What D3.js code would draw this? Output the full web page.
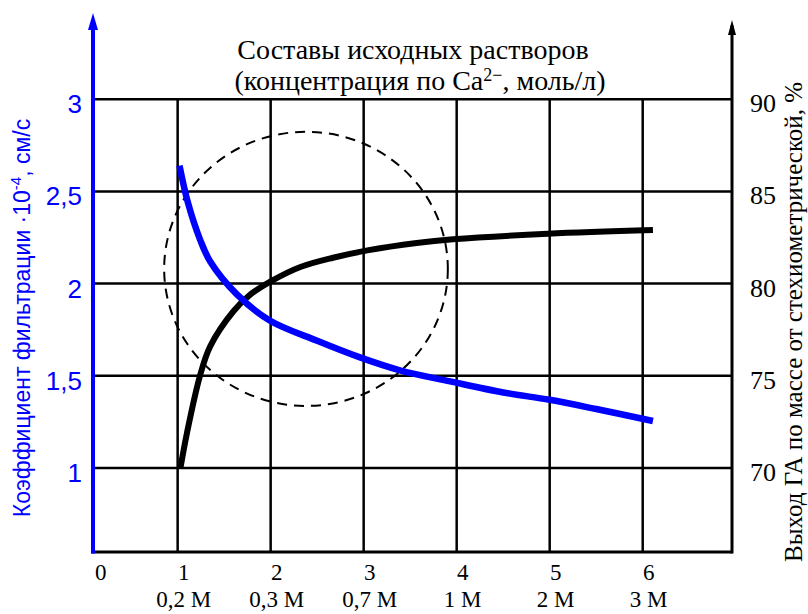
<!DOCTYPE html>
<html>
<head>
<meta charset="utf-8">
<script src="https://cdn.jsdelivr.net/npm/d3@7"></script>
<style>
  body { margin: 0; background: #fff; }
  .serif { font-family: "Liberation Serif", "Times New Roman", serif; fill: #000; }
  .sans { font-family: "Liberation Sans", Arial, sans-serif; fill: #0000ff; }
</style>
</head>
<body>
<div id="main"></div>
<script>
// данные
const xTicks = [0, 1, 2, 3, 4, 5, 6];
const concLabels = ["0,2 М", "0,3 М", "0,7 М", "1 М", "2 М", "3 М"];
const leftTicks = [1, 1.5, 2, 2.5, 3];
const leftTickLabels = ["1", "1,5", "2", "2,5", "3"];
const rightTicks = [70, 75, 80, 85, 90];

// коэффициент фильтрации (синяя кривая)
const filtX = [1.02, 1.11, 1.24, 1.35, 1.64, 1.99, 2.5, 2.96, 3.39, 3.93, 4.5, 5.0, 5.5, 6.11];
const filtY = [2.64, 2.44, 2.24, 2.12, 1.94, 1.80, 1.69, 1.60, 1.53, 1.47, 1.41, 1.37, 1.32, 1.255];

// выход ГА (чёрная кривая)
const yieldX = [1.03, 1.10, 1.24, 1.35, 1.60, 1.78, 2.03, 2.32, 2.67, 3.04, 3.57, 3.96, 4.98, 6.11];
const yieldY = [70.0, 71.9, 75.0, 76.6, 78.5, 79.4, 80.2, 80.9, 81.4, 81.8, 82.2, 82.4, 82.7, 82.9];

// пунктирный эллипс: центр (x, y) и полуоси в единицах осей
const ellipseC = [2.38, 2.08];
const ellipseR = [1.525, 0.743];

const W = 808, H = 614;

const svg = d3.select("#main")
    .append("svg")
    .attr("width", W)
    .attr("height", H);

/*
    шкалы
*/
const x = d3.scaleLinear().domain([0.09, 6.96]).range([93, 732]);
const y = d3.scaleLinear().domain([0.545, 3.467]).range([552, 13]);
const yR = d3.scaleLinear().domain([65.45, 94.67]).range([552, 13]);

/*
    сетка
*/
svg.append("g")
    .selectAll("line")
    .data(leftTicks)
    .enter()
    .append("line")
    .attr("x1", x.range()[0]).attr("x2", x.range()[1])
    .attr("y1", d => y(d)).attr("y2", d => y(d))
    .attr("stroke", "#000").attr("stroke-width", 2.5);

svg.append("g")
    .selectAll("line")
    .data(xTicks.slice(1))
    .enter()
    .append("line")
    .attr("x1", d => x(d)).attr("x2", d => x(d))
    .attr("y1", y(3)).attr("y2", y.range()[0])
    .attr("stroke", "#000").attr("stroke-width", 2.5);

// ось X
svg.append("line")
    .attr("x1", x.range()[0] - 2).attr("x2", x.range()[1])
    .attr("y1", y.range()[0]).attr("y2", y.range()[0])
    .attr("stroke", "#000").attr("stroke-width", 3);

// правая ось
svg.append("line")
    .attr("x1", x.range()[1]).attr("x2", x.range()[1])
    .attr("y1", y.range()[0] + 1.5).attr("y2", yR(94.0))
    .attr("stroke", "#000").attr("stroke-width", 3);
svg.append("path")
    .attr("d", d3.line()([[x.range()[1], yR(94.67) + 7], [x.range()[1] - 4, yR(94.67) + 22], [x.range()[1] + 4, yR(94.67) + 22]]) + "Z")
    .attr("fill", "#000");

// левая ось (синяя)
svg.append("line")
    .attr("x1", x.range()[0]).attr("x2", x.range()[0])
    .attr("y1", y.range()[0] + 1.5).attr("y2", y(3.4))
    .attr("stroke", "#0000ff").attr("stroke-width", 4);
svg.append("path")
    .attr("d", d3.line()([[x.range()[0], y.range()[1]], [x.range()[0] - 5, y.range()[1] + 17], [x.range()[0] + 5, y.range()[1] + 17]]) + "Z")
    .attr("fill", "#0000ff");

/*
    подписи осей
*/
svg.append("g")
    .selectAll("text")
    .data(leftTicks)
    .enter()
    .append("text")
    .attr("class", "sans")
    .attr("x", 82)
    .attr("y", d => y(d) + 14)
    .attr("text-anchor", "end")
    .attr("font-size", 26)
    .text((d, i) => leftTickLabels[i]);

svg.append("g")
    .selectAll("text")
    .data(rightTicks)
    .enter()
    .append("text")
    .attr("class", "serif")
    .attr("x", 763)
    .attr("y", d => yR(d) + 13)
    .attr("text-anchor", "middle")
    .attr("font-size", 26)
    .text(d => d);

svg.append("g")
    .selectAll("text")
    .data(xTicks)
    .enter()
    .append("text")
    .attr("class", "serif")
    .attr("x", d => x(d) + (d === 0 ? 16 : 6))
    .attr("y", 580)
    .attr("text-anchor", "middle")
    .attr("font-size", 23)
    .text(d => d);

svg.append("g")
    .selectAll("text")
    .data(concLabels)
    .enter()
    .append("text")
    .attr("class", "serif")
    .attr("x", (d, i) => x(i + 1) + 6)
    .attr("y", 607)
    .attr("text-anchor", "middle")
    .attr("font-size", 23)
    .text(d => d);

// заголовок
const title = svg.append("text")
    .attr("class", "serif")
    .attr("text-anchor", "middle")
    .attr("font-size", 28);
title.append("tspan").attr("x", 413).attr("y", 59).text("Составы исходных растворов");
const t2 = title.append("tspan").attr("x", 420).attr("y", 90);
t2.append("tspan").text("(концентрация по Ca");
t2.append("tspan").attr("font-size", 18).attr("dy", -9).text("2−");
t2.append("tspan").attr("dy", 9).text(", моль/л)");

// левый заголовок
const lt = svg.append("text")
    .attr("class", "sans")
    .attr("transform", "translate(30," + 318 + ") rotate(-90)")
    .attr("text-anchor", "middle")
    .attr("font-size", 23);
lt.append("tspan").text("Коэффициент фильтрации ·10");
lt.append("tspan").attr("font-size", 15).attr("dy", -9).text("-4");
lt.append("tspan").attr("dy", 9).text(", см/с");

// правый заголовок
svg.append("text")
    .attr("class", "serif")
    .attr("transform", "translate(802," + 322 + ") rotate(-90)")
    .attr("text-anchor", "middle")
    .attr("font-size", 25)
    .text("Выход ГА по массе от стехиометрической, %");

/*
    эллипс
*/
svg.append("ellipse")
    .attr("cx", x(ellipseC[0]))
    .attr("cy", y(ellipseC[1]))
    .attr("rx", x(ellipseC[0] + ellipseR[0]) - x(ellipseC[0]))
    .attr("ry", y(ellipseC[1] - ellipseR[1]) - y(ellipseC[1]))
    .attr("fill", "none")
    .attr("stroke", "#000")
    .attr("stroke-width", 2)
    .attr("stroke-dasharray", "10,7");

/*
    кривые
*/
const filtLine = d3.line()
    .x(d => x(d[0]))
    .y(d => y(d[1]))
    .curve(d3.curveCatmullRom.alpha(0.5));

const yieldLine = d3.line()
    .x(d => x(d[0]))
    .y(d => yR(d[1]))
    .curve(d3.curveCatmullRom.alpha(0.5));

svg.append("path")
    .datum(yieldX.map((v, i) => [v, yieldY[i]]))
    .attr("d", yieldLine)
    .attr("fill", "none")
    .attr("stroke", "#000")
    .attr("stroke-width", 6);

svg.append("path")
    .datum(filtX.map((v, i) => [v, filtY[i]]))
    .attr("d", filtLine)
    .attr("fill", "none")
    .attr("stroke", "#0000ff")
    .attr("stroke-width", 6.5);
</script>
</body>
</html>
